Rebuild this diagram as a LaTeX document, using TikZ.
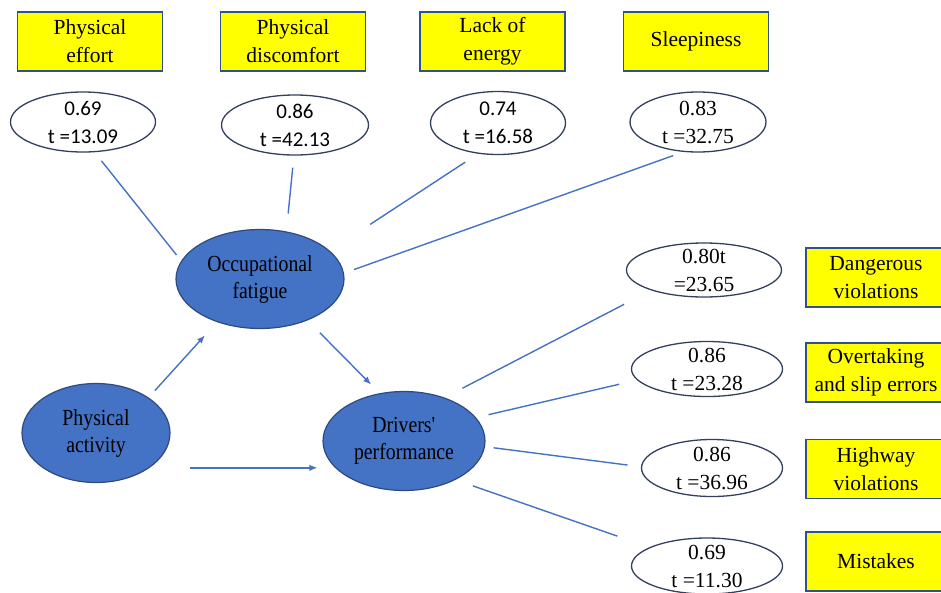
\documentclass[tikz,border=0pt]{standalone}
\usepackage{fontspec}
\setmainfont{Liberation Serif}
\newfontfamily\serifface{Liberation Serif}
\newfontfamily\calfont{Carlito}
\newfontfamily\narrowfont[FakeStretch=0.86]{Liberation Serif}
\usetikzlibrary{shapes.geometric,arrows.meta}
\definecolor{boxyellow}{HTML}{FFFF00}
\definecolor{boxline}{HTML}{2F528F}
\definecolor{bluefill}{HTML}{4472C4}
\definecolor{bigline}{HTML}{2F4A80}
\definecolor{ellline}{HTML}{32405E}
\definecolor{linkblue}{HTML}{4472C4}
\begin{document}
\begin{tikzpicture}[x=1pt,y=-1pt,
 ybox/.style={draw=boxline,line width=1.3pt,fill=boxyellow,minimum width=145pt,minimum height=59pt,inner sep=0pt,align=center,font=\serifface\fontsize{21.5}{28}\selectfont},
 sell/.style={ellipse,draw=ellline,line width=1.3pt,fill=white,inner sep=0pt},
 bell/.style={ellipse,draw=bigline,line width=1.2pt,fill=bluefill,inner sep=0pt,minimum height=99pt,align=center,font=\narrowfont\fontsize{23}{27}\selectfont},
 numsans/.style={align=center,inner sep=0pt,font=\calfont\fontsize{21}{28}\selectfont},
 numserif/.style={align=center,inner sep=0pt,font=\serifface\fontsize{21.5}{28}\selectfont},
 link/.style={draw=linkblue,line width=1.4pt},
 arr/.style={link,-{Latex[length=8pt,width=6.5pt]}}
]
\useasboundingbox (0,0) rectangle (941,592);
\fill[white] (0,0) rectangle (941,592);

% indicator boxes
\node[ybox] (b1) at (90,41.5) {Physical\\effort};
\node[ybox] (b2) at (293,41.5) {Physical\\discomfort};
\node[ybox] (b3) at (492.5,41.5) {Lack of\\energy};
\node[ybox] (b4) at (696,41.5) {Sleepiness};
\node[ybox,minimum width=140pt] (b5) at (876,277.5) {Dangerous\\violations};
\node[ybox,minimum width=140pt] (b6) at (876,372.5) {Overtaking\\and slip errors};
\node[ybox,minimum width=140pt] (b7) at (876,469) {Highway\\violations};
\node[ybox,minimum width=140pt] (b8) at (876,561.5) {Mistakes};

% loading ellipses
\node[sell,minimum width=145pt,minimum height=60pt] (e1) at (83,122) {};
\node[sell,minimum width=147pt,minimum height=60pt] (e2) at (295,125) {};
\node[sell,minimum width=135pt,minimum height=63pt] (e3) at (498,123) {};
\node[sell,minimum width=136pt,minimum height=60pt] (e4) at (698,122) {};
\node[sell,minimum width=155pt,minimum height=54pt] (e5) at (704,270) {};
\node[sell,minimum width=151pt,minimum height=55pt] (e6) at (707,369) {};
\node[sell,minimum width=141pt,minimum height=57pt] (e7) at (712,468) {};
\node[sell,minimum width=151pt,minimum height=56pt] (e8) at (707,566) {};

\node[numsans] (t1) at (e1) {0.69\\t =13.09};
\node[numsans] (t2) at (e2) {0.86\\t =42.13};
\node[numsans] (t3) at (e3) {0.74\\t =16.58};
\node[numserif] (t4) at (e4) {0.83\\t =32.75};
\node[numserif] (t5) at (e5) {0.80t\\=23.65};
\node[numserif] (t6) at (e6) {0.86\\t =23.28};
\node[numserif] (t7) at (e7) {0.86\\t =36.96};
\node[numserif] (t8) at (e8) {0.69\\t =11.30};

% constructs
\node[bell,minimum width=168pt] (OF) at (260,279) {Occupational\\fatigue};
\node[bell,minimum width=148pt] (PA) at (96,433) {Physical\\activity};
\node[bell,minimum width=162pt] (DP) at (404,441) {Drivers\textquotesingle\\performance};

% loadings
\draw[link,shorten <=11pt,shorten >=7.5pt] (e1.-69.4) -- (OF.167.5);
\draw[link,shorten <=12pt,shorten >=18pt] (e2.-92.7) -- (OF.61.6);
\draw[link,shorten <=15.3pt,shorten >=48.2pt] (e3.-123.1) -- (OF.22);
\draw[link,shorten <=10.8pt,shorten >=10.7pt] (e4.-116) -- (OF.4.3);
\draw[link,shorten <=20.1pt,shorten >=30.4pt] (DP.47.6) -- (e5.-159.9);
\draw[link,shorten <=12.8pt,shorten >=18.3pt] (DP.18.6) -- (e6.-171.6);
\draw[link,shorten <=8.7pt,shorten >=13.5pt] (DP.-4.5) -- (e7.179.3);
\draw[link,shorten <=18.4pt,shorten >=33.9pt] (DP.-37.6) -- (e8.162);

% paths
\draw[arr,shorten <=9.3pt,shorten >=17.9pt] (PA.34.8) -- (OF.-135.5);
\draw[arr,shorten <=17.3pt,shorten >=12.1pt] (OF.-41.9) -- (DP.117.4);
\draw[arr,shorten <=40.7pt,shorten >=5pt] (PA.-33.8) -- (DP.west |- PA.-33.8);
\end{tikzpicture}
\end{document}
